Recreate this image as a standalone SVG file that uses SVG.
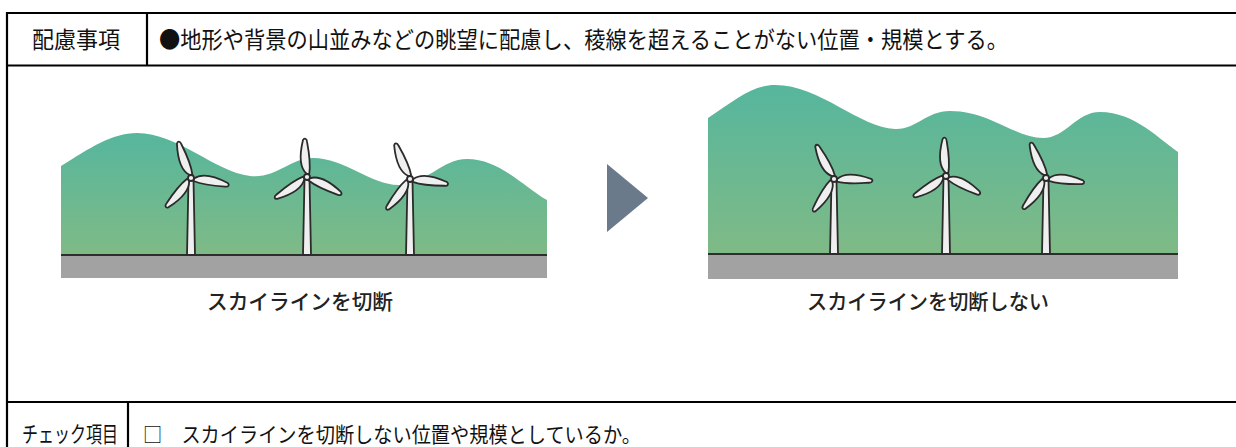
<svg xmlns="http://www.w3.org/2000/svg" width="1236" height="447" viewBox="0 0 1236 447">
  <style>
    .rule { stroke: #000; stroke-width: 2.2; fill: none; }
    .cell { font-family: "Noto Sans CJK JP", "Liberation Sans", sans-serif; fill: #111; }
    .cap { font-family: "Noto Sans CJK JP", "Liberation Sans", sans-serif; fill: #222; font-weight: 500; font-size: 21px; }
    .ground { fill: #a2a2a2; }
    .gline { stroke: #2e2e2e; stroke-width: 2; }
    .blade, .tower, .hub { fill: #efefef; stroke: #2b2b2b; stroke-width: 1.8; stroke-linejoin: round; }
  </style>
  <defs>
    <linearGradient id="hill" x1="0" y1="0" x2="0" y2="1">
      <stop offset="0" stop-color="#56b69d"/>
      <stop offset="1" stop-color="#7fba86"/>
    </linearGradient>
    <!-- one blade, pointing up from the hub -->
    <path id="blade" class="blade" d="M0,-3 C-6,-9 -6.5,-21 -1.5,-37 C0,-39.5 2.5,-38.5 2.5,-35 C4,-22 4.5,-12 2.5,-3 Z"/>
    <!-- three blades at 120 degrees, hub at origin -->
    <g id="rotor">
      <use href="#blade"/>
      <use href="#blade" transform="rotate(120)"/>
      <use href="#blade" transform="rotate(240)"/>
    </g>
  </defs>

  <!-- table rules -->
  <g id="table">
    <line class="rule" x1="7" y1="13" x2="1236" y2="13"/>
    <line class="rule" x1="7" y1="65.5" x2="1236" y2="65.5"/>
    <line class="rule" x1="7" y1="402" x2="1236" y2="402"/>
    <line class="rule" x1="7" y1="12" x2="7" y2="447"/>
    <line class="rule" x1="147" y1="13" x2="147" y2="65.5"/>
    <line class="rule" x1="128" y1="402" x2="128" y2="447"/>
  </g>

  <g id="header-label">
    <text class="cell" x="32" y="48" font-size="23" textLength="88" lengthAdjust="spacingAndGlyphs">配慮事項</text>
  </g>
  <g id="header-text">
    <text class="cell" x="159" y="48" font-size="23" textLength="849" lengthAdjust="spacingAndGlyphs">●地形や背景の山並みなどの眺望に配慮し、稜線を超えることがない位置・規模とする。</text>
  </g>

  <!-- scene: turbines breaking the ridgeline -->
  <g id="scene-before">
    <path fill="url(#hill)" d="M61,255 L61,166 C90,148 112,133 137,133 C178,133 215,172 250,176 C276,179 290,158 313,158 C345,158 372,186 400,185 C426,184 442,159 467,159 C500,159 525,188 547,200 L547,255 Z"/>
    <rect class="ground" x="61" y="255" width="486" height="23"/>
    <line class="gline" x1="61" y1="255" x2="547" y2="255"/>
    <g transform="translate(191,178)">
      <path class="tower" d="M-2.5,2 L2.5,2 L4,77 L-4,77 Z"/>
      <use href="#rotor" transform="rotate(-20)"/>
      <circle class="hub" r="3"/>
    </g>
    <g transform="translate(307,177)">
      <path class="tower" d="M-2.5,2 L2.5,2 L4,78 L-4,78 Z"/>
      <use href="#rotor" transform="rotate(-4)"/>
      <circle class="hub" r="3"/>
    </g>
    <g transform="translate(410,179)">
      <path class="tower" d="M-2.5,2 L2.5,2 L4,76 L-4,76 Z"/>
      <use href="#rotor" transform="rotate(-23)"/>
      <circle class="hub" r="3"/>
    </g>
    <text class="cap" x="300" y="309" text-anchor="middle" textLength="186" lengthAdjust="spacingAndGlyphs">スカイラインを切断</text>
  </g>

  <!-- arrow between the two scenes -->
  <g id="connectors">
    <polygon points="607,164 648,198 607,232" fill="#6b7a8a"/>
  </g>

  <!-- scene: turbines kept below the ridgeline -->
  <g id="scene-after">
    <path fill="url(#hill)" d="M708,254 L708,118 C735,100 752,85 775,85 C820,85 860,128 895,129 C916,130 926,111 950,111 C990,111 1015,138 1043,138 C1066,138 1076,112 1100,112 C1135,112 1160,140 1178,152 L1178,254 Z"/>
    <rect class="ground" x="708" y="254" width="470" height="25"/>
    <line class="gline" x1="708" y1="254" x2="1178" y2="254"/>
    <g transform="translate(834,179)">
      <path class="tower" d="M-2.5,2 L2.5,2 L4,75 L-4,75 Z"/>
      <use href="#rotor" transform="rotate(-28)"/>
      <circle class="hub" r="3"/>
    </g>
    <g transform="translate(946,176)">
      <path class="tower" d="M-2.5,2 L2.5,2 L4,78 L-4,78 Z"/>
      <use href="#rotor" transform="rotate(-3)"/>
      <circle class="hub" r="3"/>
    </g>
    <g transform="translate(1046,178)">
      <path class="tower" d="M-2.5,2 L2.5,2 L4,76 L-4,76 Z"/>
      <use href="#rotor" transform="rotate(-24)"/>
      <circle class="hub" r="3"/>
    </g>
    <text class="cap" x="928" y="309" text-anchor="middle" textLength="242" lengthAdjust="spacingAndGlyphs">スカイラインを切断しない</text>
  </g>

  <g id="check-label">
    <text class="cell" x="22" y="442" font-size="22" textLength="96" lengthAdjust="spacingAndGlyphs">チェック項目</text>
  </g>
  <g id="check-text">
    <text class="cell" x="143" y="442" font-size="21" textLength="498" lengthAdjust="spacingAndGlyphs">□　スカイラインを切断しない位置や規模としているか。</text>
  </g>
</svg>
